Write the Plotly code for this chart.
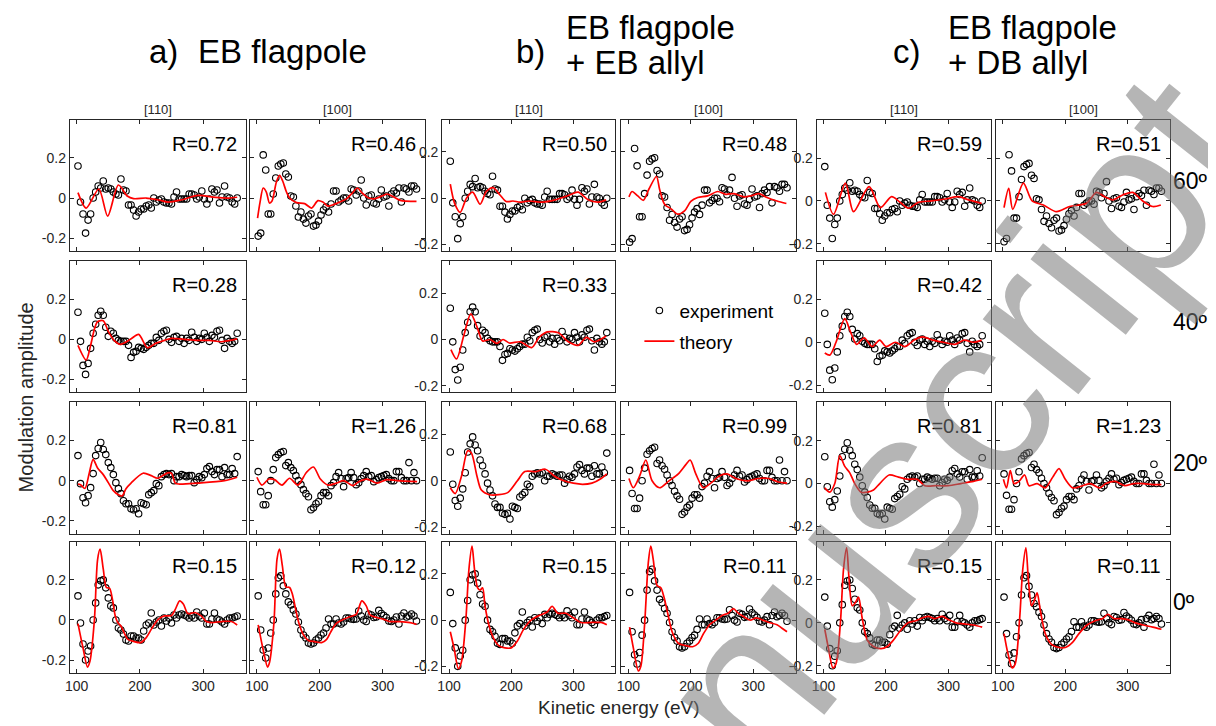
import plotly.graph_objects as go

# ---------------- data ----------------
E = [102, 106, 110, 114, 118, 122, 126, 130, 134, 138, 142, 146, 150, 154, 158, 162,
     166, 170, 174, 178, 182, 186, 190, 194, 198, 202, 206, 210, 214, 218, 222, 226,
     230, 234, 238, 242, 246, 250, 254, 258, 262, 266, 270, 274, 278, 282, 286, 290,
     294, 298, 302, 306, 310, 314, 318, 322, 326, 330, 334, 338, 342, 346, 350, 354]

EXP_60_110 = [0.16, -0.02, -0.08, -0.175, -0.11, -0.08, 0.0, 0.03, 0.06, 0.05, 0.085, 0.045, 0.05, 0.045, 0.03, 0.02,
              0.015, 0.095, 0.04, 0.035, -0.035, -0.035, -0.06, -0.09, -0.07, -0.055, -0.055, -0.04, -0.035, -0.05, 0.0, -0.02,
              -0.01, -0.005, -0.02, -0.025, -0.025, -0.03, 0.005, 0.03, -0.005, -0.005, -0.005, -0.005, 0.02, 0.02, 0.015, -0.005,
              0.005, 0.035, -0.005, -0.03, -0.005, 0.045, 0.03, 0.04, -0.025, 0.005, 0.06, 0.005, 0.0, -0.02, -0.03, 0.0]
EXP_60_100 = [-0.19, -0.175, 0.215, 0.14, -0.08, -0.08, 0.02, 0.10, 0.16, 0.17, 0.175, 0.12, 0.105, 0.01, 0.005, -0.04,
              -0.095, -0.07, -0.105, -0.125, -0.09, -0.08, -0.14, -0.135, -0.115, -0.085, -0.06, -0.045, -0.07, -0.03, 0.035, 0.035,
              -0.02, -0.01, 0.0, 0.0, -0.015, 0.045, 0.04, 0.015, 0.035, 0.09, 0.0, -0.035, 0.01, 0.015, -0.025, -0.03,
              -0.005, 0.04, 0.005, 0.01, -0.04, 0.02, 0.035, 0.025, 0.05, -0.02, 0.05, 0.045, 0.03, 0.06, 0.06, 0.045]
EXP_40_110 = [0.135, -0.01, -0.13, -0.175, -0.12, -0.045, 0.03, 0.075, 0.12, 0.14, 0.12, 0.06, 0.015, 0.04, 0.03, 0.005,
              -0.005, -0.01, -0.01, -0.01, -0.03, -0.09, -0.065, -0.06, -0.04, -0.045, -0.05, -0.04, -0.03, -0.02, -0.02, 0.01,
              -0.005, 0.03, 0.04, 0.045, 0.0, -0.015, 0.01, 0.015, -0.01, 0.005, -0.02, 0.005, -0.005, 0.035, 0.01, -0.01,
              0.005, 0.0, 0.03, 0.01, -0.01, 0.02, 0.01, 0.04, 0.045, -0.005, -0.045, 0.005, -0.01, -0.02, -0.01, 0.03]
EXP_20_110 = [0.125, -0.015, -0.085, -0.11, -0.075, -0.035, 0.035, 0.125, 0.16, 0.19, 0.155, 0.13, 0.09, 0.065, 0.03, -0.01,
              -0.04, -0.065, -0.10, -0.115, -0.115, -0.14, -0.145, -0.14, -0.165, -0.11, -0.115, -0.12, -0.07, -0.06, -0.05, -0.015,
              -0.025, 0.02, 0.03, 0.035, 0.03, 0.035, 0.0, 0.02, 0.02, 0.03, 0.025, 0.02, 0.025, 0.025, -0.01, 0.005,
              0.02, 0.015, 0.03, 0.06, 0.07, 0.045, 0.03, 0.055, 0.055, 0.02, 0.065, 0.03, 0.03, 0.06, 0.035, 0.12]
EXP_20_100 = [0.045, -0.055, -0.12, -0.12, -0.075, 0.0, 0.055, 0.115, 0.13, 0.14, 0.145, 0.075, 0.09, 0.065, 0.05, 0.025,
              0.0, -0.02, -0.045, -0.065, -0.08, -0.145, -0.135, -0.115, -0.105, -0.075, -0.06, -0.06, -0.075, -0.025, -0.01, 0.02,
              0.04, 0.01, -0.03, 0.01, 0.015, 0.04, 0.015, -0.02, -0.01, 0.01, 0.025, 0.045, 0.02, 0.025, -0.005, 0.005,
              0.015, 0.02, 0.025, 0.03, 0.01, 0.0, 0.0, 0.045, 0.045, 0.015, 0.0, 0.0, 0.09, 0.0, 0.04, 0.0]
EXP_0_110 = [0.12, -0.015, -0.12, -0.2, -0.155, -0.13, 0.0, 0.085, 0.175, 0.195, 0.2, 0.16, 0.11, 0.07, 0.06, 0.0,
             -0.04, -0.05, -0.07, -0.1, -0.105, -0.08, -0.08, -0.09, -0.09, -0.1, -0.055, -0.025, -0.015, 0.035, -0.025, -0.01,
             0.0, -0.03, 0.01, -0.005, 0.01, -0.015, 0.025, 0.01, 0.025, 0.03, 0.025, 0.02, 0.01, 0.02, 0.01, 0.04,
             0.02, 0.01, 0.035, -0.02, -0.02, 0.005, 0.035, 0.005, 0.0, -0.01, -0.02, 0.0, 0.01, 0.01, 0.015, 0.02]
EXP_0_100 = [0.12, -0.05, -0.15, -0.19, -0.14, -0.065, 0.0, 0.13, 0.21, 0.22, 0.17, 0.13, 0.09, 0.075, 0.05, 0.03,
             -0.01, -0.05, -0.075, -0.09, -0.115, -0.12, -0.115, -0.1, -0.09, -0.075, -0.065, -0.04, 0.005, -0.02, -0.02, 0.005,
             -0.015, -0.02, -0.01, 0.01, 0.01, 0.005, 0.003, 0.005, 0.045, 0.02, 0.0, -0.008, 0.03, 0.025, 0.012, 0.015,
             0.048, 0.032, 0.022, 0.012, -0.005, -0.008, 0.0, 0.015, -0.02, 0.02, 0.035, 0.015, 0.02, 0.03, 0.02, -0.005]

# theory curves (energy, amplitude)
TH_A_60_110_E = [102, 115, 135, 149, 166, 180, 190, 210, 230, 245, 265, 292, 320, 340, 354]
TH_A_60_110_Y = [0.027, -0.05, 0.045, -0.09, 0.065, 0.01, -0.003, 0.0, -0.01, -0.02, -0.01, 0.013, 0.003, 0.0, 0.004]
TH_A_60_100_E = [101, 105, 110, 115, 120, 124, 131, 136, 141, 147, 152, 163, 176, 187, 197, 205, 213, 222, 232, 243,
                 251, 260, 267, 278, 288, 301, 307, 318, 328, 354]
TH_A_60_100_Y = [-0.10, -0.02, 0.05, 0.03, -0.025, -0.015, 0.08, 0.113, 0.085, 0.03, 0.0, -0.023, -0.028, -0.05, -0.013,
                 -0.02, -0.04, -0.033, -0.02, -0.003, 0.022, 0.05, 0.027, 0.0, -0.003, 0.013, 0.02, 0.005, -0.012, -0.017]
TH_A_40_110_E = [102, 115, 122, 128, 133, 142, 150, 160, 169, 185, 198, 212, 225, 239, 250, 270, 292, 310, 329, 354]
TH_A_40_110_Y = [-0.03, -0.103, -0.03, 0.05, 0.088, 0.093, 0.04, -0.008, -0.025, 0.0, 0.025, -0.042, -0.02, -0.005,
                 0.005, 0.0, -0.005, -0.005, -0.012, 0.002]
TH_A_20_110_E = [102, 106, 113, 120, 126, 133, 142, 150, 158, 166, 172, 178, 186, 205, 218, 228, 244, 250, 256, 262,
                 292, 334, 354]
TH_A_20_110_Y = [-0.017, -0.02, -0.039, 0.04, 0.106, 0.063, 0.03, -0.01, -0.05, -0.071, -0.076, -0.04, -0.012, 0.037,
                 0.025, 0.012, 0.039, 0.036, -0.012, -0.017, -0.012, 0.0, 0.017]
TH_A_20_100_E = [100, 108, 119, 128, 140, 152, 165, 179, 190, 201, 213, 227, 238, 253, 262, 275, 291, 307, 323, 355]
TH_A_20_100_Y = [0.017, -0.022, 0.008, 0.005, -0.022, 0.012, -0.022, 0.042, 0.068, 0.008, -0.022, -0.012, 0.0, -0.025,
                 -0.005, 0.008, -0.012, 0.005, 0.0, -0.005]
TH_A_0_110_E = [102, 110, 117, 121, 128, 133, 137, 142, 147, 152, 157, 161, 165, 170, 175, 181, 191, 201, 210, 219,
                229, 239, 250, 256, 263, 269, 276, 287, 297, 305, 313, 329, 345, 354]
TH_A_0_110_Y = [-0.018, -0.14, -0.235, -0.205, 0.0, 0.30, 0.353, 0.255, 0.162, 0.158, 0.095, 0.02, -0.013, -0.03,
                -0.063, -0.097, -0.108, -0.113, -0.088, -0.042, 0.003, 0.02, 0.022, 0.053, 0.095, 0.078, 0.032, 0.037,
                0.02, -0.008, -0.013, -0.008, -0.008, -0.025]
TH_A_0_100_E = [102, 110, 117, 120, 127, 132, 136, 140.5, 146, 152, 156.5, 162, 167, 173.6, 182, 192, 203, 211, 217,
                226, 238, 247, 258, 267, 274, 280, 291, 302, 312, 328, 344, 354]
TH_A_0_100_Y = [-0.025, -0.15, -0.235, -0.213, -0.018, 0.303, 0.353, 0.27, 0.165, 0.162, 0.128, 0.048, -0.018, -0.072,
                -0.102, -0.108, -0.113, -0.097, -0.063, -0.018, 0.003, 0.015, 0.028, 0.095, 0.07, 0.025, 0.012, 0.003,
                -0.008, -0.008, -0.013, -0.022]

TH_B_60_110_E = [102, 109, 118, 128, 138, 150, 160, 171, 182, 192, 203, 214, 229, 250, 271, 287, 297, 308, 324, 340, 353]
TH_B_60_110_Y = [0.061, -0.022, -0.061, 0.0, 0.026, -0.026, 0.029, 0.046, 0.014, -0.014, -0.012, -0.017, -0.012,
                 -0.017, -0.007, 0.007, 0.017, 0.026, -0.007, -0.017, -0.007]
TH_B_60_100_E = [101, 106, 115, 124, 133, 145, 150, 158, 169, 179, 190, 200, 211, 227, 243, 256, 269, 285, 296, 309,
                 322, 338, 353]
TH_B_60_100_Y = [0.006, 0.029, 0.01, -0.009, 0.04, 0.094, 0.039, -0.026, -0.047, -0.069, -0.055, -0.014, 0.003, 0.01,
                 0.029, 0.017, 0.02, 0.006, 0.01, 0.02, 0.003, -0.012, -0.023]
TH_B_40_110_E = [103, 112, 124, 135, 145, 154, 166, 177, 187, 197, 215, 233, 245, 258, 276, 292, 308, 321, 334, 353]
TH_B_40_110_Y = [-0.044, -0.084, 0.02, 0.111, 0.055, -0.006, 0.0, -0.017, 0.0, -0.015, -0.01, -0.035, 0.009, 0.033,
                 0.029, -0.01, -0.025, 0.009, -0.01, 0.015]
TH_B_20_110_E = [102, 110, 120, 130, 136, 145, 152, 165, 180, 195, 210, 222, 240, 255, 270, 285, 300, 315, 330, 345, 354]
TH_B_20_110_Y = [-0.03, -0.055, 0.02, 0.13, 0.12, 0.02, -0.04, -0.06, -0.06, -0.05, 0.0, 0.04, 0.04, 0.05, 0.02, 0.0,
                 -0.01, -0.015, -0.01, 0.01, 0.03]
TH_B_20_100_E = [101, 108, 118, 128, 138, 150, 165, 180, 192, 199, 208, 220, 232, 245, 258, 272, 290, 308, 325, 340, 354]
TH_B_20_100_Y = [0.01, -0.03, 0.02, 0.09, 0.0, -0.03, 0.0, 0.03, 0.07, 0.09, 0.03, -0.03, -0.01, 0.02, 0.03, 0.01, 0.0,
                 0.01, 0.01, -0.005, -0.01]
TH_B_0_110_E = [102, 108, 115, 120, 127, 132, 137, 141, 146, 150, 154, 158, 165, 172, 180, 190, 200, 210, 220, 232,
                245, 258, 266, 275, 288, 300, 312, 330, 345, 354]
TH_B_0_110_Y = [-0.05, -0.12, -0.21, -0.18, 0.0, 0.22, 0.32, 0.22, 0.14, 0.13, 0.14, 0.06, -0.03, -0.08, -0.11, -0.12,
                -0.12, -0.09, -0.04, 0.0, 0.02, 0.035, 0.06, 0.03, 0.03, 0.01, -0.01, -0.01, -0.01, -0.02]
TH_B_0_100_E = [102, 108, 116, 120, 126, 132, 136, 140, 146, 152, 157, 163, 170, 180, 192, 203, 212, 220, 230, 240,
                250, 260, 268, 276, 285, 295, 305, 315, 325, 338, 346, 354]
TH_B_0_100_Y = [-0.03, -0.12, -0.22, -0.2, -0.02, 0.25, 0.32, 0.26, 0.15, 0.14, 0.1, 0.03, -0.05, -0.1, -0.11, -0.115,
                -0.1, -0.06, -0.02, 0.0, 0.02, 0.03, 0.05, 0.03, 0.015, 0.0, 0.01, 0.0, -0.01, -0.02, -0.035, -0.05]

TH_C_60_110_E = [103, 116, 135, 148, 173, 191, 209, 222, 236, 252, 273, 295, 316, 332, 353]
TH_C_60_110_Y = [0.04, -0.062, 0.083, -0.05, 0.067, -0.031, 0.02, -0.005, -0.034, -0.006, 0.0, 0.009, 0.02, 0.005, -0.011]
TH_C_60_100_E = [102, 109.5, 116, 133, 147, 165, 186, 207, 234, 250, 263, 276, 292, 308, 324, 340, 353]
TH_C_60_100_Y = [-0.031, 0.059, -0.039, 0.083, 0.0, -0.019, -0.05, -0.026, -0.011, 0.04, 0.02, 0.005, 0.028, 0.04,
                 0.0, -0.026, -0.019]
TH_C_40_110_E = [102, 110, 120, 134, 143, 153, 165, 178, 190, 200, 215, 230, 245, 258, 275, 292, 310, 325, 340, 353]
TH_C_40_110_Y = [-0.05, -0.06, 0.0, 0.11, 0.05, -0.01, 0.02, -0.02, 0.01, -0.02, 0.0, -0.02, 0.01, 0.025, 0.01, 0.0,
                 -0.01, 0.01, 0.0, 0.01]
TH_C_20_110_E = [102, 110, 118, 126, 134, 142, 150, 160, 170, 180, 190, 205, 220, 235, 250, 262, 280, 300, 320, 340, 354]
TH_C_20_110_Y = [-0.02, -0.04, 0.0, 0.13, 0.08, 0.05, 0.0, -0.04, -0.04, -0.03, 0.0, 0.04, 0.03, 0.02, 0.02, -0.01,
                 -0.01, -0.01, 0.0, 0.01, 0.02]
TH_C_20_100_E = [101, 106, 112, 118, 126, 135, 142, 155, 168, 180, 190, 200, 212, 228, 240, 255, 265, 280, 295, 310,
                 325, 340, 354]
TH_C_20_100_Y = [0.02, -0.02, 0.06, 0.0, 0.01, 0.04, -0.01, 0.0, -0.02, 0.03, 0.07, 0.02, -0.02, -0.01, 0.0, -0.02,
                 0.0, 0.01, -0.01, 0.0, 0.0, -0.005, -0.005]
TH_C_0_110_E = [102, 108, 115, 120, 127, 132, 137, 141, 146, 152, 156, 162, 170, 180, 192, 202, 212, 222, 235, 248,
                260, 268, 278, 290, 300, 312, 325, 340, 354]
TH_C_0_110_Y = [-0.03, -0.12, -0.21, -0.19, 0.0, 0.25, 0.35, 0.2, 0.08, 0.1, 0.12, 0.02, -0.08, -0.11, -0.12, -0.11,
                -0.08, -0.04, 0.0, 0.01, 0.025, 0.03, 0.02, 0.03, 0.015, 0.0, -0.005, -0.01, -0.02]
TH_C_0_100_E = [102, 108, 115, 120, 127, 132, 137, 141, 146, 150, 155, 160, 168, 178, 190, 200, 212, 222, 235, 248,
                260, 268, 278, 290, 300, 312, 325, 340, 354]
TH_C_0_100_Y = [-0.05, -0.14, -0.21, -0.19, 0.02, 0.25, 0.35, 0.2, 0.08, 0.1, 0.14, 0.06, -0.05, -0.1, -0.115, -0.115,
                -0.09, -0.05, -0.01, 0.01, 0.02, 0.04, 0.02, 0.02, 0.015, 0.0, -0.01, -0.02, -0.03]

# (row, col, experiment, theory E, theory Y, R label)
PANELS = [
    (0, 0, EXP_60_110, TH_A_60_110_E, TH_A_60_110_Y, "R=0.72"),
    (0, 1, EXP_60_100, TH_A_60_100_E, TH_A_60_100_Y, "R=0.46"),
    (0, 2, EXP_60_110, TH_B_60_110_E, TH_B_60_110_Y, "R=0.50"),
    (0, 3, EXP_60_100, TH_B_60_100_E, TH_B_60_100_Y, "R=0.48"),
    (0, 4, EXP_60_110, TH_C_60_110_E, TH_C_60_110_Y, "R=0.59"),
    (0, 5, EXP_60_100, TH_C_60_100_E, TH_C_60_100_Y, "R=0.51"),
    (1, 0, EXP_40_110, TH_A_40_110_E, TH_A_40_110_Y, "R=0.28"),
    (1, 2, EXP_40_110, TH_B_40_110_E, TH_B_40_110_Y, "R=0.33"),
    (1, 4, EXP_40_110, TH_C_40_110_E, TH_C_40_110_Y, "R=0.42"),
    (2, 0, EXP_20_110, TH_A_20_110_E, TH_A_20_110_Y, "R=0.81"),
    (2, 1, EXP_20_100, TH_A_20_100_E, TH_A_20_100_Y, "R=1.26"),
    (2, 2, EXP_20_110, TH_B_20_110_E, TH_B_20_110_Y, "R=0.68"),
    (2, 3, EXP_20_100, TH_B_20_100_E, TH_B_20_100_Y, "R=0.99"),
    (2, 4, EXP_20_110, TH_C_20_110_E, TH_C_20_110_Y, "R=0.81"),
    (2, 5, EXP_20_100, TH_C_20_100_E, TH_C_20_100_Y, "R=1.23"),
    (3, 0, EXP_0_110, TH_A_0_110_E, TH_A_0_110_Y, "R=0.15"),
    (3, 1, EXP_0_100, TH_A_0_100_E, TH_A_0_100_Y, "R=0.12"),
    (3, 2, EXP_0_110, TH_B_0_110_E, TH_B_0_110_Y, "R=0.15"),
    (3, 3, EXP_0_100, TH_B_0_100_E, TH_B_0_100_Y, "R=0.11"),
    (3, 4, EXP_0_110, TH_C_0_110_E, TH_C_0_110_Y, "R=0.15"),
    (3, 5, EXP_0_100, TH_C_0_100_E, TH_C_0_100_Y, "R=0.11"),
]

ANGLES = ["60º", "40º", "20º", "0º"]
DIRECTIONS = ["[110]", "[100]"]
X_TICKS = [100, 200, 300]
Y_TICKS = [-0.2, 0, 0.2]
Y_TICK_TEXT = ["-0.2", "0", "0.2"]

# ---------------- layout geometry (reference pixels) ----------------
OFF = 8                      # the page body has an 8 px margin
W, H = 1216 - OFF, 726 - OFF


def PX(x):
    return (x - OFF) / W


def PY(y):
    return 1 - (y - OFF) / H


COLS_PX = [(65, 242), (246, 422), (439, 613), (619, 794), (815, 990), (995, 1170)]
ROWS_PX = [(120, 251.5), (261.5, 393), (403, 534.5), (542.5, 674)]
X_RANGE = [89, 368]
Y_RANGES = [[-0.265, 0.39], [-0.229, 0.339], [-0.234, 0.378]]
FONT = "Liberation Sans, Arial, sans-serif"
AX_COLOR = "#262626"

fig = go.Figure()
layout = {}
annotations = []

for i, (r, c, ey, te, ty, rlab) in enumerate(PANELS, start=1):
    key = "" if i == 1 else str(i)
    xa, ya = "x" + key, "y" + key
    fig.add_trace(go.Scatter(
        x=E, y=ey, mode="markers", xaxis=xa, yaxis=ya,
        marker=dict(symbol="circle-open", size=6.5, color="black", line=dict(width=1.1)),
        name="experiment", legendgroup="exp", showlegend=(i == 1)))
    fig.add_trace(go.Scatter(
        x=te, y=ty, mode="lines", xaxis=xa, yaxis=ya,
        line=dict(color="#ff0000", width=1.7, shape="spline", smoothing=0.8),
        name="theory", legendgroup="th", showlegend=(i == 1)))
    x0, x1 = COLS_PX[c]
    y0, y1 = ROWS_PX[r]
    common = dict(showline=True, mirror="ticks", linecolor=AX_COLOR, linewidth=1,
                  ticks="inside", ticklen=4, tickwidth=1, tickcolor=AX_COLOR,
                  showgrid=False, zeroline=False,
                  tickfont=dict(family=FONT, size=14, color=AX_COLOR))
    layout["xaxis" + key] = dict(domain=[PX(x0), PX(x1)], anchor=ya, range=X_RANGE,
                                 tickvals=X_TICKS, showticklabels=(r == 3), **common)
    layout["yaxis" + key] = dict(domain=[PY(y1), PY(y0)], anchor=xa,
                                 range=Y_RANGES[c // 2], tickvals=Y_TICKS, ticktext=Y_TICK_TEXT,
                                 showticklabels=(c % 2 == 0), **common)
    annotations.append(dict(text=rlab, xref="paper", yref="paper", x=PX(x1 - 7), y=PY(y0 + 24),
                            xanchor="right", yanchor="middle", showarrow=False,
                            font=dict(family=FONT, size=20, color="black")))

# column direction headers
for c in range(6):
    x0, x1 = COLS_PX[c]
    annotations.append(dict(text=DIRECTIONS[c % 2], xref="paper", yref="paper", x=PX((x0 + x1) / 2),
                            y=PY(110), xanchor="center", yanchor="middle", showarrow=False,
                            font=dict(family=FONT, size=13, color=AX_COLOR)))

# angle labels
for r, lab in enumerate(ANGLES):
    y0, y1 = ROWS_PX[r]
    annotations.append(dict(text=lab, xref="paper", yref="paper", x=PX(1171), y=PY((y0 + y1) / 2 - 5),
                            xanchor="left", yanchor="middle", showarrow=False,
                            font=dict(family=FONT, size=23, color="black")))

# titles
TITLE_FONT = dict(family=FONT, size=33, color="black")
for txt, px, py in [("a)", 143, 52), ("EB flagpole", 192, 52),
                    ("b)", 511, 52), ("EB flagpole", 561, 28), ("+ EB allyl", 561, 63),
                    ("c)", 890, 52), ("EB flagpole", 945, 28), ("+ DB allyl", 945, 63)]:
    annotations.append(dict(text=txt, xref="paper", yref="paper", x=PX(px), y=PY(py),
                            xanchor="left", yanchor="middle", showarrow=False, font=TITLE_FONT))

# axis titles
annotations.append(dict(text="Modulation amplitude", xref="paper", yref="paper", x=PX(22), y=PY(398),
                        textangle=-90, xanchor="center", yanchor="middle", showarrow=False,
                        font=dict(family=FONT, size=20, color=AX_COLOR)))
annotations.append(dict(text="Kinetic energy (eV)", xref="paper", yref="paper", x=PX(617), y=PY(708),
                        xanchor="center", yanchor="middle", showarrow=False,
                        font=dict(family=FONT, size=19, color=AX_COLOR)))

# watermark
annotations.append(dict(text="Accepted Manuscript", xref="paper", yref="paper", x=PX(535), y=PY(950),
                        textangle=-51.6, xanchor="center", yanchor="middle", showarrow=False,
                        font=dict(family=FONT, size=230, color="rgba(120,120,120,0.55)")))

fig.update_layout(
    width=W, height=H, autosize=False,
    margin=dict(l=0, r=0, t=0, b=0),
    paper_bgcolor="white", plot_bgcolor="white",
    font=dict(family=FONT, color="black"),
    showlegend=True,
    legend=dict(x=PX(637), y=PY(292), xanchor="left", yanchor="top",
                bgcolor="rgba(0,0,0,0)", font=dict(family=FONT, size=19, color="black"),
                tracegroupgap=3, itemwidth=30),
    annotations=annotations,
    **layout,
)

fig.write_html("out.html")
